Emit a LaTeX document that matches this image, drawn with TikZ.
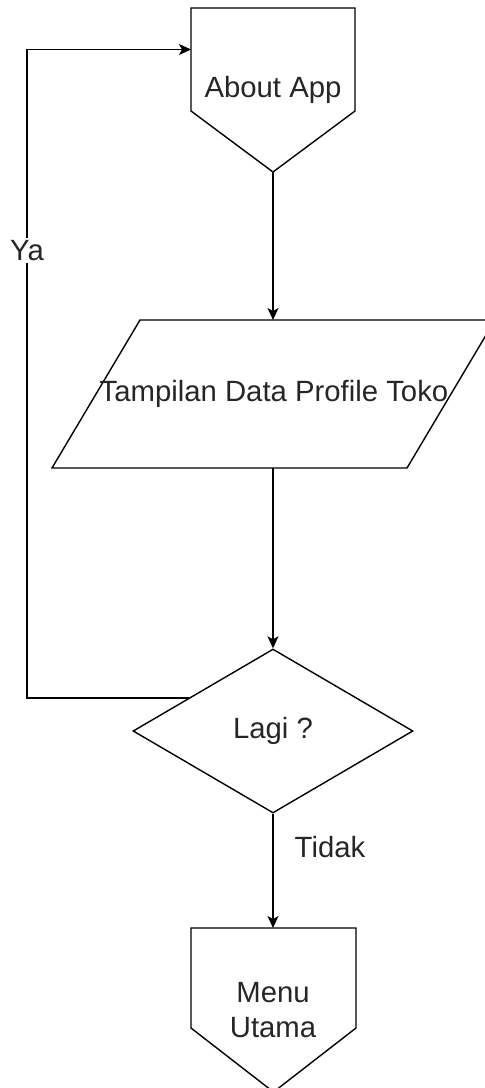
\documentclass[tikz,border=0pt]{standalone}
\usepackage{fontspec}
\setmainfont{Liberation Sans}
\usetikzlibrary{arrows.meta,shapes.geometric}
\tikzset{
  shapeline/.style={draw=black, line width=1.4pt, line join=miter, fill=white},
  conn/.style={draw=black, line width=1.4pt, -{Stealth[length=12pt,width=11pt,inset=3pt]}},
  lbl/.style={text=black!85, font=\fontsize{29.3}{35}\selectfont, inner sep=0pt, align=center},
  edgelbl/.style={lbl, fill=white, inner sep=2pt}
}
\begin{document}
\begin{tikzpicture}[x=1pt,y=-1pt]
\useasboundingbox (0,0) rectangle (485,1088);
\clip (0,0) rectangle (485,1088);

% About App (off-page connector)
\draw[shapeline] (191,8) -- (355,8) -- (355,111) -- (273,172) coordinate (aboutS) -- (191,111) -- cycle;
\coordinate (aboutIn) at (191,49.5);
\node[lbl] (about) at (273,90) {About App};

% Parallelogram
\draw[shapeline] (140,320) -- (495,320) -- (407,468) -- (52,468) -- cycle;
\coordinate (paraN) at (273,320);
\coordinate (paraS) at (273,468);
\node[lbl] (para) at (274,394) {Tampilan Data Profile Toko};

% Diamond
\node[shapeline, diamond, minimum width=280pt, minimum height=164pt, inner sep=0pt] (dec) at (273,731) {};
\node[lbl] (declbl) at (273,731) {Lagi ?};
\coordinate (decW) at (189,698);

% Menu Utama (off-page connector)
\draw[shapeline] (191,928) -- (356,928) -- (356,1028) -- (273.5,1092) -- (191,1028) -- cycle;
\coordinate (menuN) at (273,928);
\node[lbl] (menu) at (273,1010) {Menu\\Utama};

% connectors
\draw[conn] (aboutS) -- (paraN);
\draw[conn] (paraS) -- (dec.north);
\draw[conn] (dec.south) -- (menuN);
\coordinate (loopBL) at (27,698);
\coordinate (loopTL) at (27,49.5);
\draw[conn] (decW) -- (loopBL) -- node[edgelbl, pos=0.69] (ya) {Ya} (loopTL) -- (aboutIn);
\node[lbl] (tidak) at (330,847) {Tidak};
\end{tikzpicture}
\end{document}
